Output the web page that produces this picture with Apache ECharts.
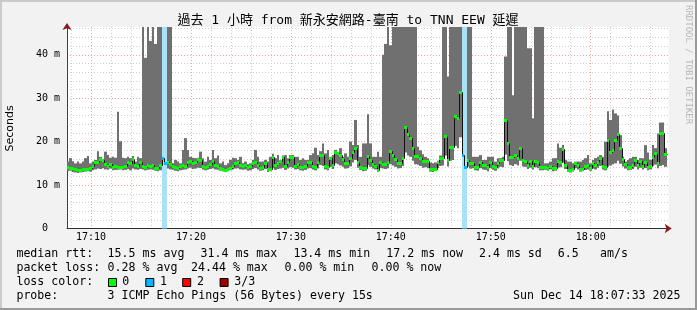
<!DOCTYPE html>
<html><head><meta charset="utf-8">
<script src="https://cdn.jsdelivr.net/npm/echarts@6/dist/echarts.min.js"></script>
<style>html,body{margin:0;padding:0;background:#f2f2f2}#c{width:697px;height:310px}</style>
</head><body><div id="c"></div>
<script>
// ---------------- data ----------------
const titleText = '過去 1 小時 from 新永安網路-臺南 to TNN EEW 延遲';
const startTime = '17:07:36';   // left edge of the plot / first step
const endTime = '18:07:48';     // right edge of the plot
const stepSeconds = 15;

// median rtt per 15 s step (ms)
const median = [
 14.1,14.0,13.9,13.7,13.4,13.5,13.7,13.8,13.8,13.9,
 14.3,15.4,15.4,15.9,15.8,14.9,14.5,14.9,14.2,14.4,
 14.2,14.2,14.2,14.5,15.2,15.0,16.0,14.6,14.5,15.4,
 14.5,14.2,14.6,14.4,14.6,14.0,13.9,14.6,16.2,15.0,
 15.4,14.8,14.5,14.2,14.0,14.4,14.6,14.5,15.4,15.5,
 15.0,15.2,15.9,15.8,14.5,14.2,14.5,14.8,15.5,14.6,
 14.5,14.0,13.7,13.5,13.7,14.0,14.5,15.0,15.4,14.6,
 14.5,14.6,14.2,14.5,15.0,15.4,14.6,14.0,14.2,15.0,
 13.7,13.8,16.5,14.6,15.0,15.6,16.4,14.5,15.4,16.4,
 16.4,14.5,14.8,14.2,14.2,14.5,15.4,15.4,14.5,14.2,
 15.2,16.9,16.9,14.5,14.2,16.2,14.6,17.7,17.5,16.9,
 16.0,15.0,15.0,16.2,17.7,18.6,15.4,14.2,13.9,14.0,
 16.7,15.8,14.8,14.5,13.5,15.4,14.8,14.8,15.4,17.8,
 16.9,16.0,15.0,15.0,16.3,23.4,21.7,20.9,18.6,16.8,
 16.8,16.2,15.5,15.5,15.5,13.7,13.7,13.7,15.4,16.3,
 16.3,21.4,15.8,18.8,18.8,26.0,25.5,31.4,16.9,14.2,
 15.8,15.0,15.0,14.2,14.2,15.4,14.6,14.6,14.2,15.4,
 14.5,14.2,15.0,15.8,15.8,25.0,19.6,16.5,16.5,16.9,
 16.2,18.6,15.8,15.6,14.6,15.5,14.5,15.5,15.4,14.2,
 14.2,14.2,14.0,14.5,14.0,14.0,15.5,15.4,18.3,14.6,
 13.5,13.5,13.7,15.0,14.6,13.7,13.7,14.5,14.6,14.0,
 15.0,14.6,15.4,16.2,14.5,14.2,20.4,17.7,18.1,20.4,
 21.7,18.5,16.0,14.8,14.2,14.2,14.6,15.8,14.6,15.5,
 14.5,15.4,14.2,14.5,16.5,17.3,15.0,22.0,22.0,17.2
];
// smoke: fastest ping per step (ms)
const smokeLow = [
 13.2,13.3,13.0,12.9,12.8,12.9,13.0,13.1,13.2,13.1,
 13.4,13.6,13.8,13.7,13.9,13.6,13.5,13.8,13.4,13.5,
 13.5,13.6,13.4,13.5,13.7,13.4,13.8,13.6,13.5,13.7,
 13.6,13.4,13.5,13.6,13.5,13.3,13.2,13.4,13.8,13.6,
 13.8,13.6,13.5,13.3,13.2,13.4,13.5,13.6,13.8,14.0,
 13.7,13.8,14.0,13.9,13.6,13.4,13.5,13.7,13.9,13.6,
 13.5,13.3,13.1,13.0,13.2,13.4,13.6,13.8,13.9,13.6,
 13.5,13.6,13.3,13.4,13.7,13.9,13.6,13.3,13.4,13.7,
 13.0,13.2,13.9,13.5,13.7,13.8,14.0,13.5,13.8,14.1,
 14.0,13.6,13.7,13.4,13.3,13.5,13.8,13.9,13.6,13.4,
 13.8,14.6,14.4,13.6,13.4,14.2,13.7,15.0,14.8,14.5,
 14.2,13.8,13.9,14.3,15.2,15.8,14.0,13.5,13.2,13.3,
 14.6,14.2,13.8,13.6,13.0,13.9,13.8,13.7,13.9,14.8,
 14.5,14.2,13.8,13.9,14.4,17.5,16.8,16.5,15.6,14.8,
 14.7,14.4,14.0,14.1,13.9,13.1,13.0,13.2,13.9,14.4,
 14.5,16.8,14.3,15.6,15.8,19.0,18.5,21.0,14.8,13.6,
 14.2,13.8,13.9,13.4,13.3,13.9,13.6,13.5,13.2,13.9,
 13.5,13.3,13.8,14.2,14.1,17.0,15.5,14.6,14.4,14.8,
 14.5,15.6,14.3,14.2,13.7,14.0,13.6,14.1,13.9,13.4,
 13.4,13.5,13.3,13.6,13.2,13.3,14.0,14.1,15.2,13.7,
 13.0,12.9,13.1,13.9,13.6,13.1,13.2,13.5,13.6,13.3,
 13.8,13.6,14.0,14.4,13.6,13.4,14.2,14.5,14.8,15.0,
 15.6,14.9,14.3,13.8,13.4,13.5,13.7,14.2,13.6,14.0,
 13.6,13.9,13.4,13.6,14.4,14.7,13.9,14.4,14.6,14.2
];
// smoke: slowest ping per step (ms); values above the graph top are clipped
const smokeHigh = [
 15.4,16.2,15.5,15.0,15.4,15.0,15.4,16.2,16.7,15.0,
 15.4,15.8,17.8,16.5,16.0,17.7,16.9,16.3,16.5,16.3,
 26.9,20.1,16.3,16.2,16.5,16.2,16.7,15.4,16.5,16.2,
 60,39.3,60,43.2,60,42.5,60,60,60,60,
 60,60,15.0,15.8,15.4,15.0,18.1,20.8,18.1,16.5,
 16.3,16.2,16.3,17.7,16.2,15.4,16.5,15.8,18.1,16.2,
 16.8,15.0,15.4,14.6,15.0,15.8,16.3,16.2,15.8,16.5,
 15.0,15.4,14.8,15.0,15.8,18.1,16.5,15.4,15.4,15.8,
 15.4,16.5,17.2,16.2,16.9,15.8,16.8,16.9,16.2,16.9,
 16.9,16.5,16.5,15.8,16.2,15.8,15.8,16.9,17.3,18.6,
 16.9,17.8,19.6,17.3,18.1,16.5,16.9,18.1,17.7,18.5,
 16.5,17.3,16.5,20.0,19.2,25.0,19.2,16.5,19.6,19.6,
 26.3,19.6,16.5,16.5,17.7,16.5,40.0,42.5,60,42.2,
 60,60,60,60,60,60,60,60,60,60,
 18.8,18.0,17.1,16.5,16.2,15.2,15.0,15.2,15.6,16.8,
 60,60,35.0,60,60,60,60,60,60,60,
 60,60,16.5,16.5,16.5,16.9,15.8,15.8,16.5,16.5,
 16.5,15.4,16.2,16.2,16.5,39.6,60,60,30.7,60,
 60,60,60,60,41.5,41.5,25.4,60,60,60,
 60,15.0,15.0,15.4,16.2,16.2,19.6,18.6,19.2,15.8,
 15.4,15.4,15.0,15.4,15.4,15.4,15.8,16.2,16.9,15.0,
 15.8,16.2,16.5,16.9,16.5,20.0,27.0,25.0,27.4,26.5,
 26.0,21.5,16.5,15.4,15.8,16.2,16.5,16.5,15.8,16.2,
 16.2,19.2,17.5,15.8,19.2,18.5,21.9,24.4,24.4,18.5
];
// steps with packet loss, and how many of the 3 pings were lost
const lossStepIndex = [38, 39, 158, 159];
const lossPings = [1, 1, 1, 1];

const lossColors = ['#00ff00', '#00b8ff', '#ff0000', '#a00000'];
const lossLabels = ['0', '1', '2', '3/3'];

const xTickLabels = ['17:10', '17:20', '17:30', '17:40', '17:50', '18:00'];
const yTickValues = [0, 10, 20, 30, 40];
const yTickLabels = ['0  ', '10 m', '20 m', '30 m', '40 m'];
const yTop = 46.4;

// ---------------- build ----------------
const secOf = s => { const p = s.split(':').map(Number); return (p[0] - 17) * 3600 + p[1] * 60 + (p[2] || 0); };
const xMin = secOf(startTime), xMax = secOf(endTime);
const xTickSec = xTickLabels.map(secOf);
const lossOf = i => { const j = lossStepIndex.indexOf(i); return j < 0 ? 0 : lossPings[j]; };

const smokeData = median.map((m, i) => [xMin + i * stepSeconds, smokeLow[i], smokeHigh[i]]);
const medianData = median.map((m, i) => [xMin + i * stepSeconds, m, lossOf(i)]);
const lossData = lossStepIndex.map((k, j) => [xMin + k * stepSeconds, lossPings[j]]);

const X_CELL = 6;   // grid helper category spacing (s)
const xCats = []; for (let t = xMin; t <= xMax; t += X_CELL) xCats.push(t);
const Y_CELL = 0.2;
const yCats = []; for (let i = 0; i * Y_CELL <= yTop + 1e-9; i++) yCats.push(i);

const clipTo = (shape, cs) => echarts.graphic.clipRectByRect(shape, {x: cs.x, y: cs.y, width: cs.width, height: cs.height});

function renderSmoke(params, api) {
  const t = api.value(0);
  const a = api.coord([t, api.value(2)]);
  const b = api.coord([t + stepSeconds, api.value(1)]);
  const x0 = Math.round(a[0]), x1 = Math.round(b[0]);
  const shape = clipTo({x: x0, y: a[1], width: x1 - x0, height: b[1] - a[1]}, params.coordSys);
  return shape && {type: 'rect', shape, style: {fill: '#707070'}};
}
function renderLoss(params, api) {
  const t = api.value(0);
  const a = api.coord([t, 0]);
  const b = api.coord([t + stepSeconds, 0]);
  const cs = params.coordSys;
  const x0 = Math.round(a[0]), x1 = Math.round(b[0]);
  return {type: 'rect', shape: {x: x0, y: cs.y, width: x1 - x0, height: cs.height}, style: {fill: '#a8e2f8'}};
}
function renderMedianLine(params, api) {
  const i = params.dataIndex;
  const t = api.value(0), m = api.value(1);
  const p = api.coord([t, m]);
  const q = api.coord([t + stepSeconds, m]);
  const x0 = Math.round(p[0]) + 0.5, x1 = Math.round(q[0]) + 0.5;
  const y = Math.round(p[1]) + 0.5;
  const pts = [];
  if (i > 0) { const pp = api.coord([t, median[i - 1]]); pts.push([x0, Math.round(pp[1]) + 0.5]); }
  pts.push([x0, y], [x1, y]);
  return {type: 'polyline', shape: {points: pts}, style: {stroke: '#111', lineWidth: 1, fill: null}};
}
function renderMedianMark(params, api) {
  const t = api.value(0), m = api.value(1), loss = api.value(2);
  const p = api.coord([t, m]);
  const q = api.coord([t + stepSeconds, m]);
  const x0 = Math.round(p[0]), x1 = Math.round(q[0]);
  const y = Math.round(p[1]) - 1;
  return {type: 'rect', shape: {x: x0, y: y, width: x1 - x0, height: 3}, style: {fill: lossColors[loss]}};
}

const MONO = '"DejaVu Sans Mono", monospace';
const gridLeft = 67, gridTop = 27, gridW = 601.7, gridH = 201.5;

const gridLineCommon = {type: [1, 2], width: 1};
const xAxes = [
  {type: 'value', min: xMin, max: xMax, show: false},
  {type: 'category', data: xCats, boundaryGap: false, position: 'bottom',
   axisLine: {show: true, lineStyle: {color: '#303030', width: 1}},
   axisTick: {show: false},
   axisLabel: {show: true, margin: 4, color: '#000', fontFamily: MONO, fontSize: 10,
     interval: (idx, v) => xTickSec.indexOf(+v) >= 0,
     formatter: v => { const j = xTickSec.indexOf(+v); return j >= 0 ? xTickLabels[j] : ''; }},
   splitLine: {show: true, interval: (idx, v) => (+v) % 120 === 0 && xTickSec.indexOf(+v) < 0,
     lineStyle: Object.assign({color: '#cfcfcf'}, gridLineCommon)}},
  {type: 'category', data: xCats, boundaryGap: false, position: 'bottom',
   axisLine: {show: true, symbol: ['none', 'arrow'], symbolSize: [7, 7], symbolOffset: [0, 3],
     lineStyle: {color: '#8b1a1a', width: 0}},
   axisTick: {show: false}, axisLabel: {show: false},
   splitLine: {show: true, interval: (idx, v) => xTickSec.indexOf(+v) >= 0,
     lineStyle: Object.assign({color: '#f1a2a2'}, gridLineCommon)}}
];
const yAxes = [
  {type: 'value', min: 0, max: yTop, interval: 10, position: 'left',
   axisLine: {show: false}, axisTick: {show: false}, splitLine: {show: false},
   axisLabel: {show: true, margin: 7, color: '#000', fontFamily: MONO, fontSize: 10, showMaxLabel: false,
     formatter: v => { const j = yTickValues.indexOf(v); return j >= 0 ? yTickLabels[j] : ''; }}},
  {type: 'category', data: yCats, boundaryGap: false, position: 'left',
   axisLine: {show: true, lineStyle: {color: '#404040', width: 1}},
   axisTick: {show: false}, axisLabel: {show: false},
   splitLine: {show: true, interval: (idx) => idx > 0 && idx % 10 === 0 && idx % 50 !== 0,
     lineStyle: Object.assign({color: '#cfcfcf'}, gridLineCommon)}},
  {type: 'category', data: yCats, boundaryGap: false, position: 'left',
   axisLine: {show: true, symbol: ['none', 'arrow'], symbolSize: [7, 7], symbolOffset: [0, 4],
     lineStyle: {color: '#8b1a1a', width: 0}},
   axisTick: {show: false}, axisLabel: {show: false},
   splitLine: {show: true, interval: (idx) => idx > 0 && idx % 50 === 0,
     lineStyle: Object.assign({color: '#f1a2a2'}, gridLineCommon)}}
];

// legend texts (positions of the text blocks)
const legendFont = '11.6px ' + MONO;
const legendRows = [
  {y: 254, items: [[16.4, 'median rtt:'], [107.6, '15.5 ms avg'], [200.5, '31.4 ms max'], [293.4, '13.4 ms min'], [386.3, '17.2 ms now'], [479, '2.4 ms sd'], [557.8, '6.5'], [600, 'am/s']]},
  {y: 268, items: [[16.4, 'packet loss:'], [107.6, '0.28 % avg'], [191, '24.44 % max'], [284.5, '0.00 % min'], [371.5, '0.00 % now']]},
  {y: 282, items: [[16.4, 'loss color:']]},
  {y: 296, items: [[16.4, 'probe:'], [107.6, '3 ICMP Echo Pings (56 Bytes) every 15s']]}
];
const swatchX = [108, 145.3, 182.2, 219.6];
const swatchLabelX = [122.2, 160, 196.9, 234.2];

const graphics = [];
const txt = (x, y, text, font, fill, align, valign, rot) => ({
  type: 'text', x, y, rotation: rot || 0, silent: true, z: 100,
  style: {text, font, fill, align, verticalAlign: valign, textAlign: align, textVerticalAlign: valign}
});
// frame
graphics.push({type: 'rect', shape: {x: 0, y: 0, width: 697, height: 2}, style: {fill: '#cbcbcb'}, silent: true, z: 100});
graphics.push({type: 'rect', shape: {x: 0, y: 0, width: 2, height: 310}, style: {fill: '#cbcbcb'}, silent: true, z: 100});
graphics.push({type: 'rect', shape: {x: 0, y: 308, width: 697, height: 2}, style: {fill: '#999999'}, silent: true, z: 100});
graphics.push({type: 'rect', shape: {x: 695, y: 0, width: 2, height: 310}, style: {fill: '#999999'}, silent: true, z: 100});
graphics.push(txt(348, 21, titleText, '13px "DejaVu Sans Mono", "Noto Sans CJK TC", monospace', '#000', 'center', 'middle'));
graphics.push(txt(10, 128.5, 'Seconds', '11px "DejaVu Sans", sans-serif', '#000', 'center', 'middle', Math.PI / 2));
graphics.push(txt(688, 5, 'RRDTOOL / TOBI OETIKER', '9px ' + MONO, '#b8b8b8', 'left', 'middle', -Math.PI / 2));
legendRows.forEach(r => r.items.forEach(it => graphics.push(txt(it[0], r.y, it[1], legendFont, '#000', 'left', 'middle'))));
lossLabels.forEach((lab, i) => {
  graphics.push({type: 'rect', shape: {x: swatchX[i] + 0.5, y: 278.5, width: 8, height: 8},
    style: {fill: lossColors[i], stroke: '#000', lineWidth: 1}, silent: true, z: 100});
  graphics.push(txt(swatchLabelX[i], 282, lab, legendFont, '#000', 'left', 'middle'));
});
graphics.push(txt(680.5, 296, 'Sun Dec 14 18:07:33 2025', legendFont, '#000', 'right', 'middle'));

const chart = echarts.init(document.getElementById('c'), null, {renderer: 'canvas', width: 697, height: 310});
chart.setOption({
  animation: false,
  backgroundColor: '#f2f2f2',
  grid: {left: gridLeft, top: gridTop, width: gridW, height: gridH, show: true, backgroundColor: '#ffffff', borderWidth: 0, containLabel: false},
  xAxis: xAxes,
  yAxis: yAxes,
  graphic: graphics,
  series: [
    {type: 'custom', name: 'smoke', xAxisIndex: 0, yAxisIndex: 0, data: smokeData, renderItem: renderSmoke, z: 2, silent: true},
    {type: 'custom', name: 'loss', xAxisIndex: 0, yAxisIndex: 0, data: lossData, renderItem: renderLoss, z: 3, silent: true},
    {type: 'custom', name: 'median', xAxisIndex: 0, yAxisIndex: 0, data: medianData, renderItem: renderMedianLine, z: 4, silent: true},
    {type: 'custom', name: 'median loss color', xAxisIndex: 0, yAxisIndex: 0, data: medianData, renderItem: renderMedianMark, z: 5, silent: true}
  ]
});
</script>
</body></html>
